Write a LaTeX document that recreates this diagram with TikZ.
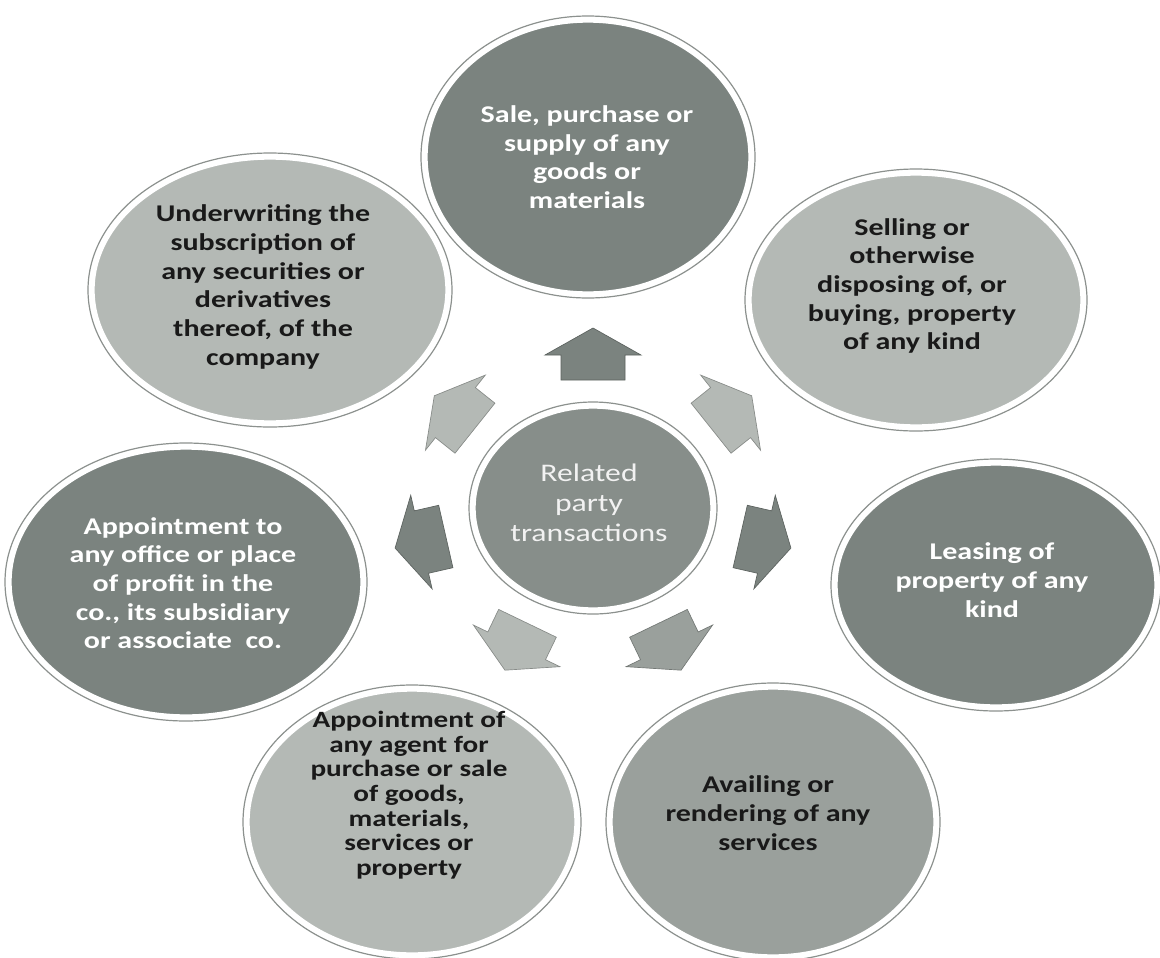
\documentclass[tikz,border=0pt]{standalone}
\usepackage{fontspec}
\setmainfont[FakeStretch=1.25]{Carlito}
\usetikzlibrary{shapes.geometric}
\definecolor{darkg}{HTML}{7B837F}
\definecolor{lightg}{HTML}{B4B9B5}
\definecolor{medg}{HTML}{9AA09C}
\definecolor{centg}{HTML}{878E8A}
\definecolor{ringg}{HTML}{8C918E}
\begin{document}
\begin{tikzpicture}[x=0.75pt,y=-0.75pt,
  bub/.style n args={3}{ellipse, inner sep=0pt, fill=#1, draw=white, line width=4pt,
     minimum width={#2*1.5pt}, minimum height={#3*1.5pt}},
  ring/.style={draw=ringg, line width=0.9pt},
  lbl/.style={align=center, inner sep=0pt, font=\bfseries\fontsize{18}{21.5}\selectfont},
  wt/.style={text=white},
  bk/.style={text=black!90}]
\fill[white] (0,0) rectangle (1160,957);
\useasboundingbox (0,0) rectangle (1160,957);

% bubbles
\foreach \n/\x/\y/\rx/\ry/\c in {top/588/157/163/137/darkg, sell/916/300/167/127/lightg,
   lease/996/585/161/122/darkg, avail/773/822/163/135/medg, apof/412/822/165/133/lightg,
   apto/186/582/177/135/darkg, under/270/290/178/133/lightg, cen/593/508/120/102/centg}{
  \draw[ring] (\x,\y) ellipse [x radius=\rx+4, y radius=\ry+4];
  \node[bub={\c}{\rx}{\ry}] (\n) at (\x,\y) {};
}

% texts
\node[lbl,wt] (ttop) at (587,157) {Sale, purchase or\\supply of any\\goods or\\materials};
\node[lbl,bk] (tsell) at (912,286) {Selling or\\otherwise\\disposing of, or\\buying, property\\of any kind};
\node[lbl,wt] (tlease) at (992,580) {Leasing of\\property of any\\kind};
\node[lbl,bk] (tavail) at (768,813) {Availing or\\rendering of any\\services};
\node[lbl,bk,font=\bfseries\fontsize{17.5}{18.5}\selectfont] (tapof) at (409,795) {Appointment of\\any agent for\\purchase or sale\\of goods,\\materials,\\services or\\property};
\node[lbl,wt] (tapto) at (183,583) {Appointment to\\any office or place\\of profit in the\\co., its subsidiary\\or associate\ \ co.};
\node[lbl,bk] (tunder) at (263,287) {Underwriting the\\subscription of\\any securities or\\derivatives\\thereof, of the\\company};
\node[lbl,wt,font=\fontsize{19}{22.5}\selectfont,text=white!95!black] (tcen) at (589,503) {Related\\party\\transactions};

% block arrows
\foreach \k/\c in {0/darkg,1/lightg,2/darkg,3/medg,4/lightg,5/darkg,6/lightg}{
  \pgfmathsetmacro\ang{90-\k*360/7}
  \filldraw[fill=\c, draw=\c!75!black, line width=0.5pt,
     shift={({593+178*cos(\ang)},{508-155*sin(\ang)})}, rotate=\ang]
     (-27,-32) -- (-2,-32) -- (-2,-48) -- (25,0) -- (-2,48) -- (-2,32) -- (-27,32) -- cycle;
}
\end{tikzpicture}
\end{document}
